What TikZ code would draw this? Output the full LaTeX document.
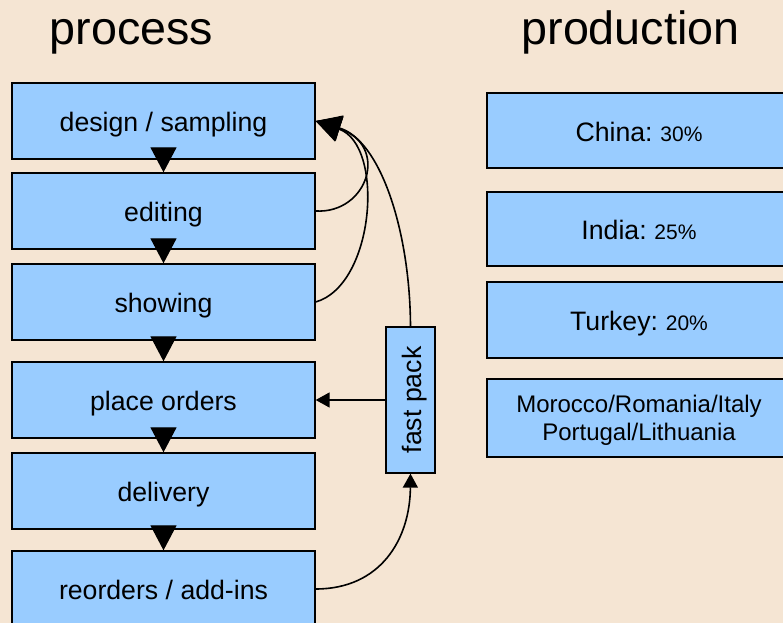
\documentclass[tikz,border=0pt]{standalone}
\usepackage{fontspec}
\setmainfont{Liberation Sans}
\usetikzlibrary{arrows.meta}

\definecolor{paper}{HTML}{F5E5D3}
\definecolor{boxblue}{HTML}{99CCFF}

% small print for the percentage shares
\newcommand{\share}[1]{{\fontsize{15.75}{18}\selectfont #1}}

\begin{document}
\begin{tikzpicture}[
    x=0.75pt, y=-0.75pt,
    panel/.style={draw=black, line width=1pt, fill=boxblue, inner sep=0pt},
    stage/.style={panel, minimum width=227.25pt, minimum height=57pt,
                  font=\fontsize{20}{24}\selectfont,
                  text height=16pt, text depth=0pt},
    country/.style={panel, minimum width=228pt,
                  font=\fontsize{20}{24}\selectfont,
                  text height=16pt, text depth=0pt},
    heading/.style={anchor=base, font=\fontsize{35}{40}\selectfont},
    flowtip/.style={-{Triangle[length=18.75pt,width=19.5pt]}, line width=1pt},
    bigtip/.style={-{Triangle[length=18.75pt,width=19.5pt]}, line width=1.2pt},
    smalltip/.style={-{Triangle[length=10.5pt,width=11.25pt]}, line width=1.2pt}
  ]
  % page and background
  \useasboundingbox (0,0) rectangle (783,623);
  \fill[paper] (0,0) rectangle (783,623);

  % headings
  \node[heading] (ttlprocess) at (131.5,45) {process};
  \node[heading] (ttlproduction) at (630.5,45) {production};

  % process chain
  \node[stage] (design)   at (163.5,121) {design / sampling};
  \node[stage] (editing)  at (163.5,211) {editing};
  \node[stage] (showing)  at (163.5,302) {showing};
  \node[stage] (place)    at (163.5,400) {place orders};
  \node[stage] (delivery) at (163.5,491) {delivery};
  \node[stage] (reorders) at (163.5,589) {reorders / add-ins};

  \draw[flowtip] (design.south)   -- (editing.north);
  \draw[flowtip] (editing.south)  -- (showing.north);
  \draw[flowtip] (showing.south)  -- (place.north);
  \draw[flowtip] (place.south)    -- (delivery.north);
  \draw[flowtip] (delivery.south) -- (reorders.north);

  % fast pack shortcut
  \node[panel, minimum width=36.75pt, minimum height=109.5pt,
        font=\fontsize{20}{24}\selectfont] (fast) at (410.5,400)
        {\rotatebox{90}{\raisebox{0pt}[16pt][0pt]{fast pack}}};

  \draw[smalltip] (fast.west) -- (place.east);
  \draw[smalltip] (reorders.east) .. controls (380,589) and (410,540) .. (fast.south);
  \draw[bigtip] (fast.north) .. controls (410,230) and (380,140) .. (design.east);
  \draw[bigtip] (showing.east) .. controls (375,285) and (385,145) .. (design.east);
  \draw[bigtip] (editing.east) .. controls (368,214) and (390,145) .. (design.east);

  % production countries
  \node[country, minimum height=56.25pt] (china)  at (639,130.5) {China:\share{ 30\%}};
  \node[country, minimum height=55.5pt]  (india)  at (639,229)   {India:\share{ 25\%}};
  \node[country, minimum height=57pt]    (turkey) at (639,320)   {Turkey:\share{ 20\%}};
  \node[panel, minimum width=228pt, minimum height=58.5pt, align=center,
        font=\fontsize{18}{21}\selectfont,
        text height=34.5pt, text depth=0pt] (others) at (639,418)
        {Morocco/Romania/Italy\\Portugal/Lithuania};
\end{tikzpicture}
\end{document}
